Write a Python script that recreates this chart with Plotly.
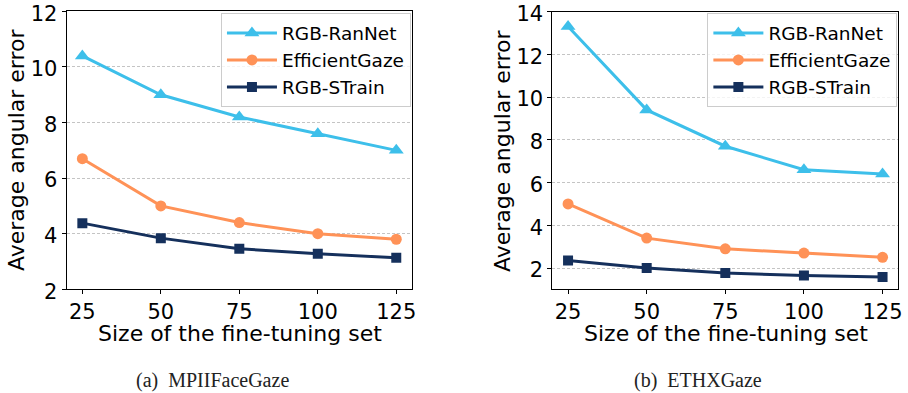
import plotly.graph_objects as go

# Fine-tuning set sizes (x axis)
sizes = [25, 50, 75, 100, 125]
x_ticks = [25, 50, 75, 100, 125]

# Method names
methods = ["RGB-RanNet", "EfficientGaze", "RGB-STrain"]

# MPIIFaceGaze: average angular error
mpii_ranet = [10.4, 9.0, 8.2, 7.6, 7.0]
mpii_effgaze = [6.7, 5.0, 4.4, 4.0, 3.8]
mpii_strain = [4.38, 3.84, 3.46, 3.28, 3.13]

# ETHXGaze: average angular error
eth_ranet = [13.3, 9.4, 7.7, 6.6, 6.4]
eth_effgaze = [5.0, 3.4, 2.9, 2.7, 2.5]
eth_strain = [2.35, 2.0, 1.77, 1.65, 1.58]

mpii_yticks = [2, 4, 6, 8, 10, 12]
eth_yticks = [2, 4, 6, 8, 10, 12, 14]

x_title = "Size of the fine-tuning set"
y_title = "Average angular error"
captions = ["(a)\u00a0 MPIIFaceGaze", "(b)\u00a0 ETHXGaze"]

colors = ["#3DBFEA", "#FF9257", "#15305C"]
symbols = ["triangle-up", "circle", "square"]
msizes = [13, 11, 10]

FONT = "DejaVu Sans"
W, H = 908, 393

fig = go.Figure()

panels = [
    ("x", "y", "legend", [mpii_ranet, mpii_effgaze, mpii_strain]),
    ("x2", "y2", "legend2", [eth_ranet, eth_effgaze, eth_strain]),
]
for xa, ya, leg, series in panels:
    for name, vals, c, s, ms in zip(methods, series, colors, symbols, msizes):
        fig.add_trace(go.Scatter(
            x=sizes, y=vals, name=name, mode="lines+markers",
            line=dict(color=c, width=3),
            marker=dict(symbol=s, size=ms, color=c),
            xaxis=xa, yaxis=ya, legend=leg, legendgroup=leg + name,
        ))

axis_common = dict(
    showline=True, linecolor="black", linewidth=1, mirror=True,
    ticks="outside", ticklen=4, tickcolor="black", tickwidth=1,
    tickfont=dict(family=FONT, size=21, color="black"),
    ticklabeloverflow="allow",
    zeroline=False, automargin=False,
)
xcommon = dict(axis_common, range=[20, 130], tickvals=x_ticks, showgrid=False)
ycommon = dict(axis_common, showgrid=True, gridcolor="#c4c4c4", gridwidth=1,
               griddash="3px,2px", ticklabelshift=2)

legend_common = dict(
    font=dict(family=FONT, size=18.5, color="black"),
    bgcolor="rgba(255,255,255,0.8)", bordercolor="#cccccc", borderwidth=1,
    xanchor="right", yanchor="top", itemwidth=50, tracegroupgap=0,
    traceorder="grouped",
)

fig.update_layout(
    width=W, height=H,
    margin=dict(l=0, r=0, t=0, b=0),
    paper_bgcolor="white", plot_bgcolor="white",
    showlegend=True,
    xaxis=dict(xcommon, domain=[0.0734, 0.4537], anchor="y"),
    yaxis=dict(ycommon, domain=[0.2639, 0.971], anchor="x",
               range=[1.999, 12.001], tickvals=mpii_yticks),
    xaxis2=dict(xcommon, domain=[0.6083, 0.9893], anchor="y2"),
    yaxis2=dict(ycommon, domain=[0.2647, 0.9705], anchor="x2",
                range=[1.02, 14.001], tickvals=eth_yticks),
    legend=dict(legend_common, x=0.4526, y=0.966),
    legend2=dict(legend_common, x=0.9883, y=0.966),
)

title_font = dict(family=FONT, size=22, color="black")
# Axis titles placed per panel: (x-title centre, y-title centre)
for x_center, y_title_x in [(239.5, 16), (725.5, 502)]:
    fig.add_annotation(
        x=x_center / W, y=(H - 333) / H, xref="paper", yref="paper",
        xanchor="center", yanchor="middle", text=x_title, showarrow=False,
        font=title_font,
    )
    fig.add_annotation(
        x=y_title_x / W, y=(H - 150) / H, xref="paper", yref="paper",
        xanchor="center", yanchor="middle", text=y_title, showarrow=False,
        textangle=-90, font=title_font,
    )

# Sub-figure captions
for xc, txt in zip([212, 698], captions):
    fig.add_annotation(
        x=xc / W, y=13 / H, xref="paper", yref="paper", xanchor="center", yanchor="middle",
        text=txt, showarrow=False,
        font=dict(family="Liberation Serif", size=20, color="#222222"),
    )

fig.write_html("out.html")
